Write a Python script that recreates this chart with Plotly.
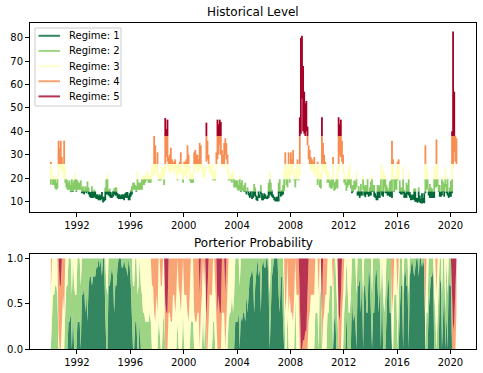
import numpy as np
import pandas as pd
import plotly.graph_objects as go

# Monthly low / high of the level series, Jan 1990 - Jun 2020 (one row per year)
vix_low = [
    17.2, 19, 17, 17, 15.5, 15, 15.5, 20, 24, 24, 23, 20,
    22, 18, 16, 15, 15, 15, 14, 14, 14, 15, 15, 14,
    15, 15, 15, 15, 13.5, 13.5, 13, 14, 13.5, 14, 13, 12,
    11.5, 11.5, 11.5, 12, 11.5, 11, 11, 10.5, 10.5, 10.5, 11, 9.5,
    10, 10.5, 13, 13, 12.5, 12, 11.5, 11.5, 12, 13, 12.5, 12.5,
    11.5, 11, 11, 11, 11, 11, 10.5, 11.5, 11.5, 11.5, 10.5, 10.5,
    12, 13, 15, 15, 15, 14, 15, 15, 15, 15, 15, 17,
    17, 18, 19, 19, 18, 18, 18, 20, 21, 21, 23, 22,
    21, 19, 19, 19, 20, 20, 17, 22, 29, 27, 23, 22,
    23, 24, 23, 22, 24, 21, 19, 23, 22, 22, 21, 18,
    21, 22, 20, 22, 24, 19, 18, 18, 18, 22, 24, 25,
    22, 23, 26, 24, 22, 20, 20, 22, 27, 28, 24, 22,
    21, 22, 19, 19, 19, 24, 28, 30, 34, 30, 25, 26,
    24, 30, 28, 22, 19, 19, 19, 18, 19, 16, 16, 16,
    15, 14.5, 15, 14, 15, 14.5, 14, 14, 13, 14, 12.5, 11.5,
    12, 11, 11.5, 12.5, 12, 10.5, 10.2, 11.5, 11.5, 13, 10.5, 10.5,
    11, 11.5, 11, 11, 11.5, 12.5, 13, 12, 11.5, 10.5, 10, 10,
    10, 10, 13.5, 12, 12.5, 13, 14.5, 20, 17, 16, 21, 18,
    21, 22, 24, 19, 16, 19, 21, 19, 21, 39, 54, 40,
    39, 38, 40, 34, 28, 25, 23, 24, 23, 21, 22, 20,
    17, 19, 16, 15.5, 20, 24, 23, 22, 21, 18, 18, 16,
    15.5, 15.5, 17, 14.5, 15, 16, 15.5, 23, 30, 29, 27, 22,
    18, 17, 14.5, 16, 17, 17, 15.5, 13.5, 14, 15, 15, 16,
    12.5, 12.5, 11.5, 12.5, 12.5, 15, 12.5, 11.8, 13, 13, 12, 12.5,
    12.5, 14, 14, 12, 11.5, 10.5, 10.5, 11.5, 11.5, 14, 12.5, 12,
    16, 13.5, 13.5, 12.5, 12.5, 12, 12, 11.5, 20, 14, 15, 15,
    19, 20, 13.5, 13, 13, 13.5, 11.5, 11.5, 11.5, 13, 12.5, 11.5,
    10.5, 10.6, 11, 10.5, 9.8, 9.8, 9.4, 10, 9.5, 9.2, 9.1, 9.4,
    9.2, 13.5, 15, 15.5, 12.5, 11.5, 11.5, 11.5, 11.5, 11.5, 16, 16,
    16.5, 14, 12, 12, 12.5, 14, 12, 16, 13.5, 12.5, 11.5, 12,
    12, 13.5, 24, 31, 27, 26,
]
vix_high = [
    27, 24, 21, 21, 20, 18, 20, 36, 33, 36, 29, 26,
    36, 24, 20, 19, 18, 19, 17, 20, 18, 19, 22, 20,
    19, 18, 18, 19, 16, 16.5, 15, 16.5, 16, 18.5, 16, 14,
    14, 16.5, 14, 15, 14.5, 13, 13, 12.5, 13, 12.5, 14, 12,
    12, 16, 20, 22, 15, 15.5, 14, 13, 14.5, 15.5, 16, 16,
    13.5, 13, 13, 12.5, 13, 13, 13, 13.5, 14, 14, 12.5, 13.5,
    15, 16.5, 18, 18, 17, 16.5, 23, 18, 18, 18, 20, 21,
    21, 21, 22, 23, 22, 20, 21, 26, 25, 38, 34, 26,
    31, 22, 22, 22, 25, 24, 25, 45.7, 41, 45, 29, 30,
    33, 28, 27, 27, 28, 26, 24, 26, 27, 31, 24, 23,
    27, 27, 28, 34, 30, 25, 22, 22, 22, 31, 32, 30,
    30, 28, 35, 34, 26, 24, 25, 25, 43.7, 36, 30, 26,
    25, 26, 23, 23, 24, 31, 45, 43, 45, 44, 32, 30,
    35, 37, 35, 30, 24, 22, 22, 21, 23, 20, 19, 19,
    19, 17, 21, 18, 19, 16, 17, 18, 14.5, 16, 14.5, 13.5,
    14.5, 12.5, 14.5, 17.5, 16, 12.5, 12, 14.5, 13, 17, 13.5, 12.5,
    13.5, 13, 12, 12.5, 18, 23, 18, 15, 13, 12, 11.5, 12,
    12, 18, 19.5, 14.5, 15, 17, 24, 31, 26, 23, 31, 23,
    31, 28, 32, 24, 20, 24, 28, 23, 46, 80, 80.9, 68,
    57, 52, 53, 42, 34, 32, 29, 28, 27, 29, 25, 24,
    27, 26, 19, 22, 46, 35, 30, 27, 26, 23, 23, 19,
    19, 20.5, 29, 18, 18.5, 21, 25, 46, 43, 45, 36, 30,
    23, 20, 18, 21, 24, 26, 20, 17, 17, 19, 18.5, 23,
    14.5, 16.5, 14.5, 17.5, 14.5, 21, 16.5, 17, 17, 20, 14, 16,
    18.5, 21, 17, 17, 13.5, 12.5, 17, 17, 16.5, 26, 14.5, 23.5,
    22, 21, 17, 16, 15, 18.5, 19, 36, 28, 20, 20.5, 24,
    27, 28, 19, 16, 16, 25, 15, 13.5, 18, 17, 22.5, 14,
    12.9, 12.5, 13, 15.5, 15.5, 11.5, 11.5, 16, 12.5, 11, 13.5, 11.5,
    13.5, 34, 25, 23.5, 15.5, 17.5, 16, 15.5, 14, 25, 22, 36.5,
    25.5, 17, 17, 14, 20.5, 18.5, 17.5, 24.5, 17.5, 20.5, 13.5, 16,
    18.8, 40, 82.7, 57, 38, 37,
]

# Posterior probability per month: dominant regime, secondary regime,
# probability of the dominant regime in tenths ("X" = 1.0)
post_main = [
    "332222244443", "432222222222", "222211121211", "111111111111",
    "122211111211", "111111111111", "122222222223", "333333333443",
    "433333345544", "443343333433", "333443333444", "444433335443",
    "333334545544", "444333323222", "222222221211", "111211111211",
    "111112211111", "112112243343", "444323334555", "555444333333",
    "332254433332", "223222355443", "322233212222", "111212112211",
    "222211121212", "322112243222", "332112111121", "111111111111",
    "143321111233", "321122132211", "145544",
]
post_alt = [
    "423333335534", "323311131333", "111322212122", "222222222222",
    "213322222122", "222222222222", "213311331332", "222222244334",
    "322442254433", "334434244342", "444334222333", "335342424534",
    "442243454433", "353422232311", "113111112122", "222122222122",
    "222223122222", "221221334234", "333434445444", "444533444422",
    "243343344223", "334113244534", "231322321113", "222123221122",
    "131122212323", "231221134333", "421223222232", "222222222222",
    "232212222324", "232231221322", "254453",
]
post_prob = [
    "666677687766", "667777666766", "777766766778", "8788899X9X8X",
    "X67677898677", "9XXX99X998X9", "767777677766", "677776777676",
    "678777656666", "776666776676", "666676777677", "666666767676",
    "667776666666", "666676666677", "767676676678", "898679X8969X",
    "99XX76689XXX", "X66887666666", "667666666XX9", "988676666666",
    "667667666667", "776767667666", "666666667676", "778686776698",
    "666689767686", "667786666666", "666776897768", "9X989XX8XX9X",
    "966667889666", "677866766687", "768766",
]

regime_names = ["Regime: 1", "Regime: 2", "Regime: 3", "Regime: 4", "Regime: 5"]
regime_colors = ["#006837", "#86cb66", "#feffbe", "#f88d51", "#a50026"]
regime_fill = ["rgba(0,104,55,0.8)", "rgba(134,203,102,0.8)", "rgba(254,255,190,0.8)",
               "rgba(248,141,81,0.8)", "rgba(165,0,38,0.8)"]
regime_edges = [0, 14.3, 19.5, 26.0, 38.0, 100.0]

n = len(vix_low)
dates = (pd.date_range("1990-01-01", periods=n, freq="MS") + pd.Timedelta(days=14)).strftime("%Y-%m-%d").tolist()

main = "".join(post_main)
alt = "".join(post_alt)
prob = "".join(post_prob)
probs = np.zeros((n, 5))
for i in range(n):
    p = 1.0 if prob[i] == "X" else int(prob[i]) / 10.0
    probs[i, int(main[i]) - 1] += p
    probs[i, int(alt[i]) - 1] += 1.0 - p

fig = go.Figure()

for k in range(5):
    lo_e, hi_e = regime_edges[k], regime_edges[k + 1]
    xs, ys = [], []
    for i in range(n):
        a = max(vix_low[i], lo_e)
        b = min(vix_high[i], hi_e)
        if a < b:
            xs += [dates[i], dates[i], None]
            ys += [a, b, None]
    fig.add_trace(go.Scatter(x=xs, y=ys, mode="lines", name=regime_names[k],
                             line=dict(color=regime_colors[k], width=1.8),
                             xaxis="x", yaxis="y", hoverinfo="skip", showlegend=False))

for k in range(5):
    fig.add_trace(go.Scatter(x=dates, y=probs[:, k], mode="lines", stackgroup="p",
                             line=dict(width=0, color=regime_fill[k]), fillcolor=regime_fill[k],
                             showlegend=False, xaxis="x2", yaxis="y2", hoverinfo="skip"))

# Plot-area geometry (pixels) used to place the legend box
L, R, T, B = 30, 476, 23, 349
W, H = R - L, B - T
px = lambda v: (v - L) / W
py = lambda v: (B - v) / H

shapes = [dict(type="rect", xref="paper", yref="paper", x0=px(35), x1=px(121), y0=py(106), y1=py(28),
               line=dict(color="#cccccc", width=1), fillcolor="rgba(255,255,255,0.8)", layer="above")]
annotations = []
for k in range(5):
    yc = 35.8 + 15.15 * k
    shapes.append(dict(type="line", xref="paper", yref="paper", x0=px(38.5), x1=px(60), y0=py(yc), y1=py(yc),
                       line=dict(color=regime_fill[k], width=2), layer="above"))
    annotations.append(dict(text=regime_names[k], x=px(67), y=py(yc), xref="paper", yref="paper",
                            xanchor="left", yanchor="middle", showarrow=False,
                            font=dict(family="DejaVu Sans", size=10, color="#000")))

annotations += [
    dict(text="Historical Level", x=0.5, y=1.0, xref="paper", yref="paper",
         xanchor="center", yanchor="bottom", yshift=2, showarrow=False,
         font=dict(family="DejaVu Sans", size=12, color="#000")),
    dict(text="Porterior Probability", x=0.5, y=py(254), xref="paper", yref="paper",
         xanchor="center", yanchor="bottom", yshift=2, showarrow=False,
         font=dict(family="DejaVu Sans", size=12, color="#000")),
]

font = dict(family="DejaVu Sans", size=10, color="#000000")
xcommon = dict(type="date", range=["1988-06-24", "2021-12-02"], tick0="1992-01-01", dtick="M48",
               tickformat="%Y", ticks="outside", ticklen=4, tickwidth=1, tickcolor="#000",
               showline=True, linecolor="#000", linewidth=1, mirror=True, showgrid=False,
               zeroline=False, tickfont=font, automargin=False)
ycommon = dict(ticks="outside", ticklen=4, tickwidth=1, tickcolor="#000", showline=True,
               linecolor="#000", linewidth=1, mirror=True, showgrid=False, zeroline=False,
               tickfont=font, automargin=False)

fig.update_layout(
    width=483, height=373,
    margin=dict(l=L, r=483 - R, t=T, b=373 - B),
    paper_bgcolor="white", plot_bgcolor="white",
    font=dict(family="DejaVu Sans", size=10, color="#000"),
    xaxis=dict(xcommon, domain=[0, 1], anchor="y"),
    yaxis=dict(ycommon, domain=[py(212), 1.0], anchor="x", range=[5.46, 86.37],
               tickvals=[10, 20, 30, 40, 50, 60, 70, 80]),
    xaxis2=dict(xcommon, domain=[0, 1], anchor="y2"),
    yaxis2=dict(ycommon, domain=[0, py(254)], anchor="x2", range=[0, 1.05],
                tickvals=[0, 0.5, 1.0], tickformat=".1f"),
    showlegend=False,
    shapes=shapes,
    annotations=annotations,
)

fig.write_html("out.html", config={"displayModeBar": False, "staticPlot": True},
               post_script="document.body.style.margin='0';document.body.style.overflow='hidden';")
